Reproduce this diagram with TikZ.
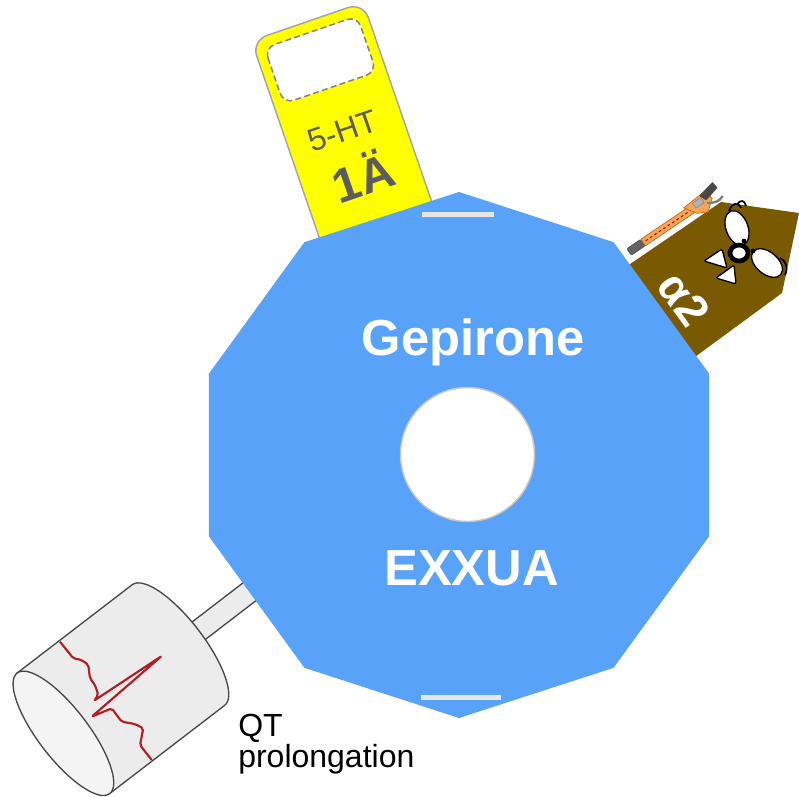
\documentclass[tikz,border=0pt]{standalone}
\usepackage{fontspec}
\setmainfont{Liberation Sans}
\usepackage{tikz}

\definecolor{decablue}{RGB}{88,162,250}
\definecolor{tabyellow}{RGB}{255,255,0}
\definecolor{tabbrown}{RGB}{122,90,0}
\definecolor{rimgray}{RGB}{165,165,165}
\definecolor{labelgray}{RGB}{92,92,92}
\definecolor{bargray}{RGB}{230,230,230}
\definecolor{drumgray}{RGB}{236,236,236}
\definecolor{capgray}{RGB}{244,244,244}
\definecolor{inkgray}{RGB}{72,72,72}
\definecolor{ecgred}{RGB}{178,30,36}
\definecolor{toolorange}{RGB}{243,165,90}

\begin{document}
\begin{tikzpicture}[x=0.75pt,y=0.75pt,yscale=-1,xscale=1,
  tabline/.style={draw=rimgray, line width=1.1pt},
  drum/.style={draw=inkgray, line width=1pt, fill=drumgray},
  facel/.style={draw=black, line width=1pt},
  bigtext/.style={text=white, font=\fontsize{38}{40}\selectfont\bfseries, anchor=base, inner sep=0pt},
  gaptick/.style={fill=bargray, draw=none}]
%set diagram to 799 x 796
\useasboundingbox (0,0) rectangle (799,796);

%Shape: Yellow tab
\begin{scope}[shift={(251.5,40.8)}, rotate=-19]
\draw [tabline, fill=tabyellow, rounded corners=12pt] (0,0) rectangle (118,225);
\draw [draw=gray, line width=1.1pt, dash pattern={on 4.5pt off 2.5pt}, fill=white, rounded corners=8pt] (10,11) rectangle (108,70);
% Text Node
\node (ht) [rotate=19, text=labelgray, font=\fontsize{24}{26}\selectfont, inner sep=0pt] at (57,115) {5-HT};
% Text Node
\node (onea) [rotate=19, text=labelgray, font=\fontsize{36}{38}\selectfont\bfseries, inner sep=0pt] at (61,163) {1Ä};
\end{scope}

%Shape: Brown tab
\draw [fill=tabbrown, draw=none] (614,275) -- (721,202) -- (799,213) -- (782,293) -- (684,365) -- cycle;

%Shape: Tool
\begin{scope}[shift={(629,252)}, rotate=-34]
\draw [fill=inkgray!85, draw=inkgray, rounded corners=1pt] (0,-4) rectangle (17,4);
\draw [fill=toolorange, draw=orange!80!black, line width=0.5pt] (17,-4) rectangle (76,4);
\draw [red!70!black, dash pattern={on 2pt off 2pt}, line width=0.7pt] (20,0) -- (74,0);
\draw [fill=toolorange, draw=orange!80!black, line width=0.5pt] (70,-6) -- (97,-8) -- (99,2) -- (88,11) -- (78,6) -- cycle;
\draw [fill=gray!60, draw=gray] (80,-5) rectangle (90,1);
\draw [fill=inkgray, draw=inkgray] (90,-7) -- (108,-11) -- (109,-4) -- (93,0) -- cycle;
\draw [inkgray!70, line width=1.8pt] (92,3) .. controls (98,7) and (103,9) .. (109,6);
\end{scope}

%Shape: Face
\draw [facel, fill=white, rotate around={-20:(737,228)}] (737,228) ellipse [x radius=11, y radius=18];
\draw [facel, fill=white, rotate around={40:(767,263)}] (767,263) ellipse [x radius=18, y radius=11];
\draw [black, line width=3.5pt, fill=white] (739,253) ellipse [x radius=9, y radius=8];
\fill (744,241) circle [radius=2.4];
\fill (753,251) circle [radius=2.4];
\draw [black, line width=1.3pt] (729,211) .. controls (732,203) and (738,201) .. (741,208);
\draw [black, line width=1.3pt] (737,205) .. controls (740,199) and (745,200) .. (746,206);
\draw [black, line width=1.3pt] (780,258) .. controls (787,262) and (788,268) .. (785,275);
\draw [facel, fill=white, rounded corners=1.5pt] (704,261) -- (722,249) -- (727,268) -- cycle;
\draw [facel, fill=white, rounded corners=1.5pt] (716,278) -- (734,265) -- (736,284) -- cycle;
% Text Node
\node (alpha) [rotate=-54, text=white, font=\fontsize{34}{36}\selectfont\bfseries, inner sep=0pt] at (684,299) {α2};

%Shape: QT drum
\begin{scope}[shift={(63.4,733.3)}, rotate=-37.5]
\draw [drum] (140,-10) rectangle (262,12);
\draw [drum] (0,-76) -- (145,-76) arc [start angle=-90, end angle=90, x radius=25, y radius=76] -- (0,76) -- cycle;
\draw [drum, fill=capgray] (0,0) ellipse [x radius=25, y radius=76];
\end{scope}
%Straight Lines: trace
\draw [ecgred, line width=1.6pt, line join=round, rounded corners=1.5pt] (60,641.7) -- (73.3,658.3) -- (81.7,660) -- (88.3,665) -- (90,678.3) -- (95,685) -- (98.3,695) -- (94,700.7) -- (161.7,656) -- (91.7,716.7) -- (111.7,708.3) -- (121.7,721.7) -- (135,724) -- (143.3,728.3) -- (140,745) -- (151.7,760);

%Shape: Decagon
\draw [fill=decablue, draw=none] (459,192) -- (613.6,242.2) -- (709.1,373.7) -- (709.1,536.3) -- (613.6,667.8) -- (459,718) -- (304.4,667.8) -- (208.9,536.3) -- (208.9,373.7) -- (304.4,242.2) -- cycle;
\fill [gaptick] (422,212) rectangle (494,217);
\fill [gaptick] (420.5,695) rectangle (500.5,700);
%Shape: Circle
\draw [fill=white, draw=gray!45, line width=1.1pt] (467.5,454.5) circle [radius=67];

% Text Node
\node (gep) [bigtext] at (473,355) {Gepirone};
% Text Node
\node (exx) [bigtext] at (471.5,585) {EXXUA};
% Text Node
\node (qt) [anchor=north west, align=left, inner sep=0pt, font=\fontsize{24}{21}\selectfont] at (238,714) {QT\\prolongation};

\end{tikzpicture}
\end{document}
